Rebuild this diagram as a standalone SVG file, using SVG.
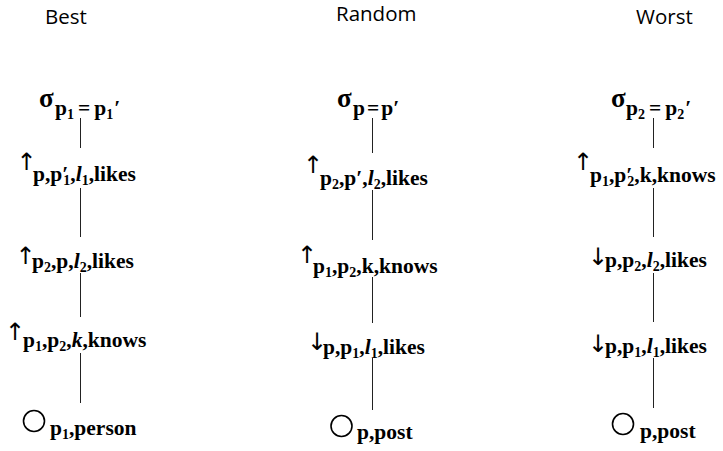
<svg xmlns="http://www.w3.org/2000/svg" width="723" height="451" viewBox="0 0 723 451">
<style>
.title{font-family:"Open Sans","Liberation Sans",sans-serif;font-size:20.5px;fill:#000}
.m{font-family:"Liberation Serif","DejaVu Serif",serif;font-weight:bold;font-size:21.5px;fill:#000}
.sig{font-family:"Liberation Serif","DejaVu Serif",serif;font-weight:bold;font-size:27px;fill:#000}
.ar{font-family:"DejaVu Sans",sans-serif;font-size:24px;fill:#000;text-anchor:middle}
.s{font-size:14px}
.i{font-style:italic}
.conn line{stroke:#222;stroke-width:1}
.leaf{fill:none;stroke:#000;stroke-width:1.6}
</style>
<rect width="723" height="451" fill="#fff"/>
<text class="title" x="45" y="24">Best</text>
<text class="title" x="336" y="21">Random</text>
<text class="title" x="636" y="24">Worst</text>
<g id="connectors" class="conn">
<line x1="80.5" y1="118" x2="80.5" y2="148"/>
<line x1="80.5" y1="188" x2="80.5" y2="237"/>
<line x1="80.5" y1="273" x2="80.5" y2="317"/>
<line x1="80.5" y1="353" x2="80.5" y2="403"/>
<line x1="372.5" y1="118" x2="372.5" y2="153"/>
<line x1="372.5" y1="190" x2="372.5" y2="240"/>
<line x1="372.5" y1="277" x2="372.5" y2="323"/>
<line x1="372.5" y1="358" x2="372.5" y2="410"/>
<line x1="653.5" y1="118" x2="653.5" y2="148"/>
<line x1="653.5" y1="188" x2="653.5" y2="237"/>
<line x1="653.5" y1="273" x2="653.5" y2="322"/>
<line x1="653.5" y1="358" x2="653.5" y2="408"/>
</g>
<!-- Best -->
<g id="best-select">
<text class="sig" x="39" y="107">σ</text>
<text class="m" x="55" y="115">p<tspan class="s" dy="4">1</tspan><tspan dx="4" dy="-4">=</tspan><tspan dx="4">p</tspan><tspan class="s" dy="4">1</tspan><tspan dx="1" dy="-4">′</tspan></text>
</g>
<g id="best-expand1">
<text class="ar" x="26.5" y="170">↑</text>
<text class="m" x="33" y="181">p,p′<tspan class="s" dx="-5" dy="4">1</tspan><tspan dy="-4">,</tspan><tspan class="i">l</tspan><tspan class="s" dy="4">1</tspan><tspan dy="-4">,likes</tspan></text>
</g>
<g id="best-expand2">
<text class="ar" x="25.5" y="264">↑</text>
<text class="m" x="32" y="268">p<tspan class="s" dy="4">2</tspan><tspan dy="-4">,p,</tspan><tspan class="i">l</tspan><tspan class="s" dy="4">2</tspan><tspan dy="-4">,likes</tspan></text>
</g>
<g id="best-expand3">
<text class="ar" x="15" y="340">↑</text>
<text class="m" x="23" y="347">p<tspan class="s" dy="4">1</tspan><tspan dy="-4">,p</tspan><tspan class="s" dy="4">2</tspan><tspan dy="-4">,</tspan><tspan class="i">k</tspan><tspan>,knows</tspan></text>
</g>
<g id="best-scan">
<circle class="leaf" cx="34" cy="421" r="10.5"/>
<text class="m" x="50" y="435">p<tspan class="s" dy="4">1</tspan><tspan dy="-4">,person</tspan></text>
</g>
<!-- Random -->
<g id="random-select">
<text class="sig" x="337" y="107">σ</text>
<text class="m" x="353" y="115">p<tspan dx="2">=</tspan><tspan dx="2">p′</tspan></text>
</g>
<g id="random-expand1">
<text class="ar" x="313" y="173">↑</text>
<text class="m" x="320" y="185">p<tspan class="s" dy="4">2</tspan><tspan dy="-4">,p′,</tspan><tspan class="i">l</tspan><tspan class="s" dy="4">2</tspan><tspan dy="-4">,likes</tspan></text>
</g>
<g id="random-expand2">
<text class="ar" x="307" y="263">↑</text>
<text class="m" x="313" y="273">p<tspan class="s" dy="4">1</tspan><tspan dy="-4">,p</tspan><tspan class="s" dy="4">2</tspan><tspan dy="-4">,k,knows</tspan></text>
</g>
<g id="random-expand3">
<text class="ar" x="317" y="350">↓</text>
<text class="m" x="323" y="354">p,p<tspan class="s" dy="4">1</tspan><tspan dy="-4">,</tspan><tspan class="i">l</tspan><tspan class="s" dy="4">1</tspan><tspan dy="-4">,likes</tspan></text>
</g>
<g id="random-scan">
<circle class="leaf" cx="341.5" cy="426" r="10.5"/>
<text class="m" x="357" y="439">p,post</text>
</g>
<!-- Worst -->
<g id="worst-select">
<text class="sig" x="611" y="107">σ</text>
<text class="m" x="626" y="115">p<tspan class="s" dy="4">2</tspan><tspan dx="4" dy="-4">=</tspan><tspan dx="4">p</tspan><tspan class="s" dy="4">2</tspan><tspan dx="1" dy="-4">′</tspan></text>
</g>
<g id="worst-expand1">
<text class="ar" x="583" y="170">↑</text>
<text class="m" x="590" y="182">p<tspan class="s" dy="4">1</tspan><tspan dy="-4">,p′</tspan><tspan class="s" dx="-5" dy="4">2</tspan><tspan dy="-4">,k,knows</tspan></text>
</g>
<g id="worst-expand2">
<text class="ar" x="598" y="265">↓</text>
<text class="m" x="605" y="267">p,p<tspan class="s" dy="4">2</tspan><tspan dy="-4">,</tspan><tspan class="i">l</tspan><tspan class="s" dy="4">2</tspan><tspan dy="-4">,likes</tspan></text>
</g>
<g id="worst-expand3">
<text class="ar" x="598" y="352">↓</text>
<text class="m" x="605" y="353">p,p<tspan class="s" dy="4">1</tspan><tspan dy="-4">,</tspan><tspan class="i">l</tspan><tspan class="s" dy="4">1</tspan><tspan dy="-4">,likes</tspan></text>
</g>
<g id="worst-scan">
<circle class="leaf" cx="623" cy="424" r="10.5"/>
<text class="m" x="640" y="438">p,post</text>
</g>
</svg>
